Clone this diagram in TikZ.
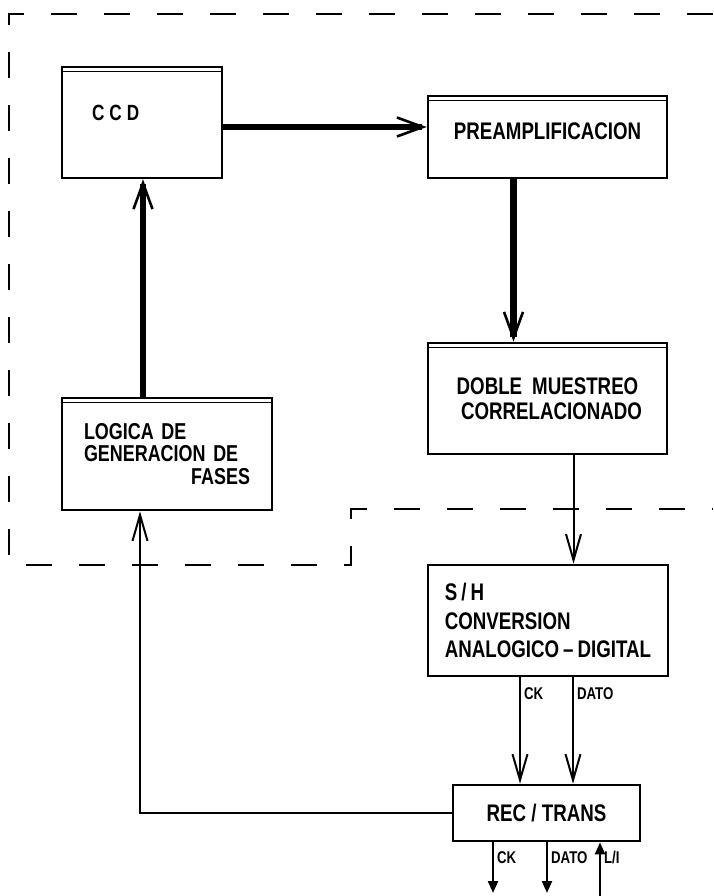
\documentclass[tikz,border=0pt]{standalone}
\usepackage{fontspec}
\setmainfont{Liberation Sans}[FakeStretch=0.78]
\usetikzlibrary{arrows.meta, positioning}
\tikzset{
  blk/.style={draw, line width=2.6pt, rectangle, inner sep=0pt,
              font=\fontsize{24}{25}\selectfont\bfseries},
  blkd/.style={blk, path picture={
      \draw[line width=1.2pt]
        ([yshift=-4.5pt]path picture bounding box.north west) --
        ([yshift=-4.5pt]path picture bounding box.north east);}},
  tharr/.style={-{Straight Barb[length=26pt,width=19pt,line width=2.6pt]},
                line width=6.5pt},
  arr/.style={-{Straight Barb[length=26pt,width=15pt,line width=2pt]},
              line width=2pt},
  sarr/.style={-{Triangle[length=12pt,width=10pt]}, line width=2.2pt},
  frame/.style={line width=2.6pt, dash pattern=on 26pt off 27pt},
  lbl/.style={font=\fontsize{17}{18}\selectfont\bfseries, inner sep=3pt},
}
\begin{document}
\begin{tikzpicture}[x=1pt, y=-1pt]
  \useasboundingbox (0,0) rectangle (713,896);

  % limite del cabezal
  \draw[frame] (713,14) -- (9,14) -- (9,565) -- (351,565) -- (351,509) -- (713,509);

  \node[blkd, minimum width=160pt, minimum height=111pt, text width=100pt, align=left,
        font=\fontsize{22}{25}\selectfont\bfseries]
    (ccd) at (142,122.5) {\raisebox{20pt}{C\hspace{5pt}C\hspace{5pt}D}};
  \node[blkd, minimum width=239pt, minimum height=82pt]
    (preamp) at (547.5,137) {\raisebox{12pt}{PREAMPLIFICACION}};
  \node[blkd, minimum width=239pt, minimum height=111pt, align=center]
    (doble) at (547.5,398.5) {DOBLE\hspace{10pt}MUESTREO\\ \hspace{8pt}CORRELACIONADO};
  \node[blkd, minimum width=210pt, minimum height=112pt, text width=166pt, align=left,
        font=\fontsize{23}{22.5}\selectfont\bfseries]
    (logica) at (167,454) {LOGICA DE\\ GENERACION DE\\ \hfill FASES\hspace{4pt}};
  \node[blk, minimum width=240pt, minimum height=111pt, align=left,
        font=\fontsize{24}{28.5}\selectfont\bfseries]
    (sh) at (548,620.5) {S\,/\,H\\ CONVERSION\\ ANALOGICO\,--\,DIGITAL};
  \node[blk, minimum width=187pt, minimum height=56pt]
    (rectrans) at (546.5,813) {REC / TRANS};

  \coordinate (bot) at (0,893);
  \coordinate (ckout) at ([xshift=-53.5pt]rectrans.south |- bot);
  \coordinate (datoout) at ([xshift=0.5pt]rectrans.south |- bot);
  \coordinate (liin) at ([xshift=53.5pt]rectrans.south |- 0,896);

  % camino de la senal
  \draw[tharr] ([yshift=-4.5pt]ccd.east) -- ([yshift=-4.5pt]ccd.east -| preamp.west);
  \draw[tharr] ([xshift=-34pt]preamp.south) -- ([xshift=-34pt]preamp.south |- doble.north);
  \draw[tharr] ([xshift=-24pt]logica.north) -- ([xshift=-24pt]logica.north |- ccd.south);
  \draw[arr] ([xshift=26pt]doble.south) -- ([xshift=26pt]doble.south |- sh.north);
  \draw[arr] ([xshift=-28pt]sh.south) -- ([xshift=-28pt]sh.south |- rectrans.north)
    node[lbl, pos=0.15, right] {CK};
  \draw[arr] ([xshift=25pt]sh.south) -- ([xshift=25pt]sh.south |- rectrans.north)
    node[lbl, pos=0.15, right] {DATO};
  \draw[arr] (rectrans.west) -| ([xshift=-27pt]logica.south);

  % salidas
  \draw[sarr] ([xshift=-53.5pt]rectrans.south) -- (ckout)
    node[lbl, pos=0.31, right] {CK};
  \draw[sarr] ([xshift=0.5pt]rectrans.south) -- (datoout)
    node[lbl, pos=0.31, right] {DATO};
  \draw[sarr] (liin) -- ([xshift=53.5pt]rectrans.south)
    node[lbl, pos=0.72, right] {L/I};
\end{tikzpicture}
\end{document}
